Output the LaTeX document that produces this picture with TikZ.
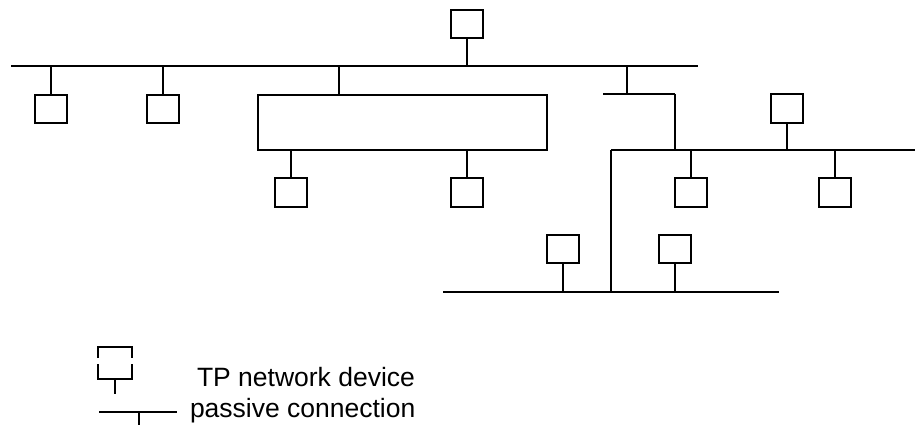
\documentclass[tikz,border=0pt]{standalone}
\usepackage{fontspec}
\setmainfont{Liberation Sans}
\begin{document}
\begin{tikzpicture}[x=1pt,y=-1pt,line width=2pt,
  device/.style={draw,rectangle,line width=2pt,inner sep=0pt,minimum width=32pt,minimum height=28.5pt},
  wire/.style={draw,line width=2pt},
  legendtext/.style={anchor=base west,inner sep=0pt,font=\fontsize{26.5}{30}\selectfont}]
\useasboundingbox (0,0) rectangle (915,425);

% TP network devices
\node[device] (top) at (467,24)    {};
\node[device] (d1)  at (51,109)    {};
\node[device] (d2)  at (163,109)   {};
\node[device] (d3)  at (290.5,192.5) {};
\node[device] (d4)  at (466.5,192.5) {};
\node[device] (d5)  at (787,108.5) {};
\node[device] (d6)  at (691,192.5) {};
\node[device] (d7)  at (835,192.5) {};
\node[device] (d8)  at (562.5,249) {};
\node[device] (d9)  at (675,249)   {};

% main line
\coordinate (mainL) at (11,66);
\coordinate (mainR) at (698,66);
\draw[wire] (mainL) -- (mainR);
\draw[wire] (top.south) -- (top.south |- mainL);
\draw[wire] (d1.north) -- (d1.north |- mainL);
\draw[wire] (d2.north) -- (d2.north |- mainL);

% ring segment
\coordinate (ringNW) at (258,95);
\coordinate (ringSE) at (547,150);
\draw[wire] (ringNW) rectangle (ringSE);
\coordinate (ringTap) at (339,95);
\draw[wire] (ringTap) -- (ringTap |- mainL);
\draw[wire] (d3.north) -- (d3.north |- ringSE);
\draw[wire] (d4.north) -- (d4.north |- ringSE);

% branch towards the right line
\coordinate (brTap) at (627,66);
\coordinate (brL) at (603,94);
\coordinate (brR) at (675,94);
\draw[wire] (brTap) -- (brTap |- brL);
\draw[wire] (brL) -- (brR);

% right line
\coordinate (rightL) at (611,150);
\coordinate (rightR) at (915,150);
\draw[wire] (brR) -- (brR |- rightL);
\draw[wire] (rightL) -- (rightR);
\draw[wire] (d5.south) -- (d5.south |- rightL);
\draw[wire] (d6.north) -- (d6.north |- rightL);
\draw[wire] (d7.north) -- (d7.north |- rightL);

% lower line
\coordinate (lowL) at (443,292);
\coordinate (lowR) at (779,292);
\draw[wire] (lowL) -- (lowR);
\draw[wire] (rightL) -- (rightL |- lowL);
\draw[wire] (d8.south) -- (d8.south |- lowL);
\draw[wire] (d9.south) -- (d9.south |- lowL);

% legend: device symbol
\draw[wire] (98,358) -- (98,347) -- (131.5,347) -- (131.5,358);
\draw[wire] (98,364) -- (98,379) -- (131.5,379) -- (131.5,364);
\coordinate (legDevB) at (114.5,379);
\coordinate (legDevE) at (114.5,394);
\draw[wire] (legDevB) -- (legDevE);
\node[legendtext] (legDev) at (196,386) {TP network device};

% legend: passive connection symbol
\coordinate (legLineL) at (99,411.5);
\coordinate (legLineR) at (177,411.5);
\coordinate (legTap) at (139,411.5);
\coordinate (legTapE) at (139,425);
\draw[wire] (legLineL) -- (legLineR);
\draw[wire] (legTap) -- (legTapE);
\node[legendtext] (legPas) at (189,417) {passive connection};
\end{tikzpicture}
\end{document}
